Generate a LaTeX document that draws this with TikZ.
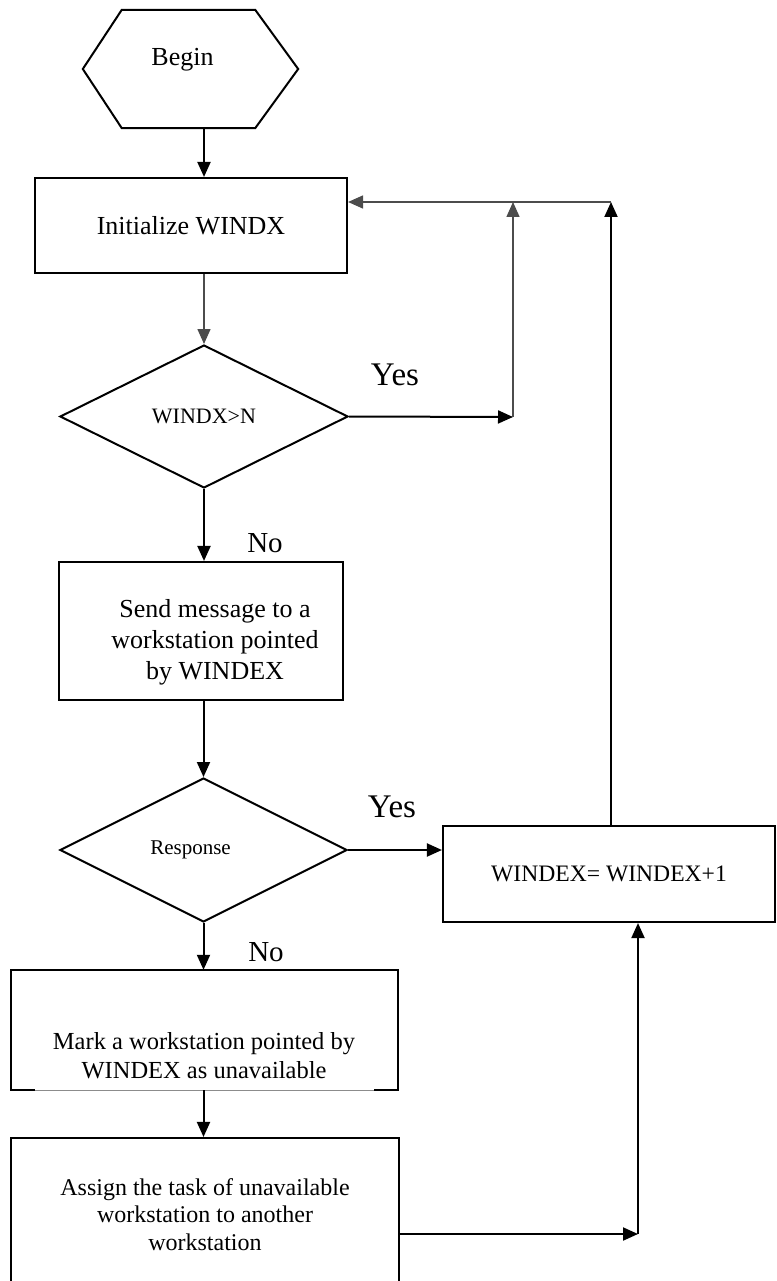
\documentclass[tikz,border=0pt]{standalone}
\usepackage{fontspec}
\setmainfont{Liberation Serif}
\usetikzlibrary{shapes.geometric,arrows.meta}
\begin{document}
\begin{tikzpicture}[x=1pt,y=-1pt,
  box/.style={draw, line width=2.1pt, inner sep=0pt, align=center},
  dia/.style={draw, diamond, line width=2pt, inner sep=0pt},
  arr/.style={line width=2pt, -{Triangle[length=15pt,width=13pt]}},
  grayline/.style={line width=1.5pt, draw=black!70},
  txt/.style={inner sep=0pt, align=center},
  f26/.style={font=\fontsize{26}{31}\selectfont}
]
\useasboundingbox (0,0) rectangle (776,1281);
\clip (0,0) rectangle (776,1281);

% Begin hexagon
\node[minimum width=215pt, minimum height=118pt, inner sep=0pt,
      label={[f26, xshift=-8pt, yshift=9pt]center:Begin}] (begin) at (190.5,69) {};
\draw[line width=2pt] (begin.west) -- ([xshift=39pt]begin.north west)
  -- ([xshift=-43pt]begin.north east) -- (begin.east)
  -- ([xshift=-43pt]begin.south east) -- ([xshift=39pt]begin.south west) -- cycle;

\node[box, minimum width=312pt, minimum height=95pt, f26] (init) at (191,225.5) {Initialize WINDX};
\node[dia, minimum width=288pt, minimum height=143pt, font=\fontsize{22}{26}\selectfont] (d1) at (204,416.5) {WINDX>N};

\node[box, minimum width=284pt, minimum height=138pt] (send) at (201,631) {};
\node[txt, f26] (sendt) at (215,642.5) {Send message to a\\workstation pointed\\by WINDEX};

\node[dia, minimum width=287pt, minimum height=144pt,
      label={[font=\fontsize{21}{25}\selectfont, xshift=-13pt]center:Response}] (d2) at (203.5,850) {};

\node[box, minimum width=332pt, minimum height=96pt, font=\fontsize{23.6}{28}\selectfont] (inc) at (609,874) {WINDEX= WINDEX+1};

\node[minimum width=387pt, minimum height=120pt, inner sep=0pt] (mark) at (204.5,1030) {};
\draw[line width=2.1pt] ([xshift=24pt]mark.south west) -- (mark.south west) -- (mark.north west)
  -- (mark.north east) -- (mark.south east) -- ([xshift=-24pt]mark.south east);
\draw[line width=1pt, black!45] ([xshift=24pt]mark.south west) -- ([xshift=-24pt]mark.south east);
\node[txt, font=\fontsize{24.5}{28.5}\selectfont] (markt) at (204,1055.5) {Mark a workstation pointed by\\WINDEX as unavailable};

\node[box, minimum width=388pt, minimum height=192pt] (assign) at (205,1234) {};
\node[txt, font=\fontsize{24}{27.5}\selectfont] (assignt) at (205,1214.5) {Assign the task of unavailable\\workstation to another\\workstation};

% labels
\node[font=\fontsize{33}{37}\selectfont, inner sep=0pt] (yes1) at (395,375) {Yes};
\node[font=\fontsize{33}{37}\selectfont, inner sep=0pt] (yes2) at (392,807) {Yes};
\node[font=\fontsize{29}{33}\selectfont, inner sep=0pt] (no1) at (265,543) {No};
\node[font=\fontsize{29}{33}\selectfont, inner sep=0pt] (no2) at (266,952) {No};

% helper coordinates
\coordinate (c1) at (513,417);
\coordinate (top) at (611,202);
\coordinate (c2) at (638,1234);

% connectors
\draw[arr] (begin.south -| d1.north) -- (init.north -| d1.north);
\draw[arr, grayline] (init.south -| d1.north) -- (d1.north);
\draw[arr] (d1.east) -- (c1);
\draw[arr, grayline] (c1) -- (c1 |- top);
\draw[arr] (inc.north -| top) -- (top);
\draw[arr, grayline] (top) -- (top -| init.east);
\draw[arr] (d1.south) -- (d1.south |- send.north);
\draw[arr] (send.south -| d2.north) -- (d2.north);
\draw[arr] (d2.east) -- (d2.east -| inc.west);
\draw[arr] (d2.south) -- (d2.south |- mark.north);
\draw[arr] (mark.south -| d2.south) -- (assign.north -| d2.south);
\draw[arr] (assign.east |- c2) -- (c2);
\draw[arr] (c2) -- (c2 |- inc.south);
\end{tikzpicture}
\end{document}
